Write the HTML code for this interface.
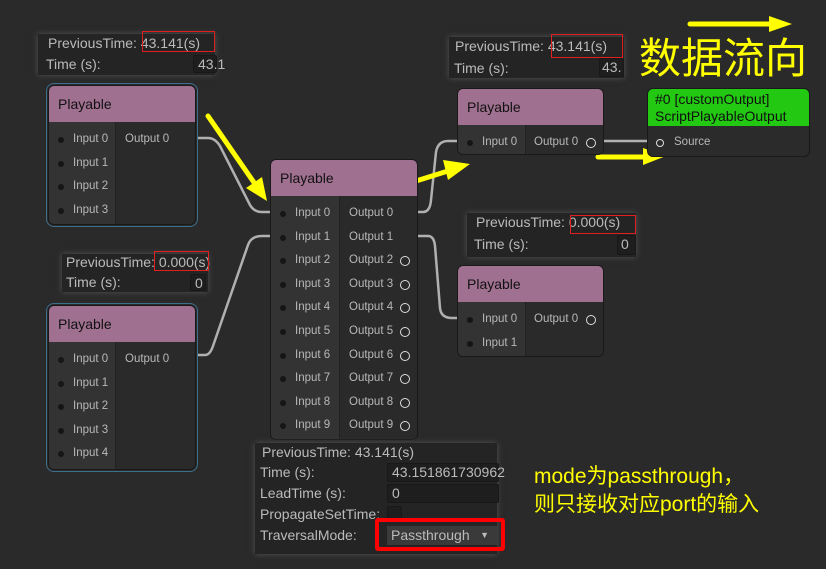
<!DOCTYPE html>
<html><head><meta charset="utf-8"><style>
*{margin:0;padding:0;box-sizing:border-box}
body{width:826px;height:569px;background:#2a2a2a;position:relative;overflow:hidden;font-family:"Liberation Sans","Noto Sans CJK SC",sans-serif}
.n{position:absolute;background:#2b2b2b;border:1px solid #191919;border-radius:6px;overflow:hidden}
.h{position:absolute;left:0;right:0;top:0;height:36px;background:#a07090;color:#111;font-size:14px;padding:10px 0 0 9px}
.l,.r{position:absolute;top:36px;bottom:0;padding-top:6px}
.l{left:0;background:#333}
.r{right:0;background:#2a2a2a;border-left:1px solid #222}
.row{height:23.6px;line-height:23.6px;font-size:11.5px;color:#b8b8b8;position:relative;white-space:nowrap}
.l .row{padding-left:24px}
.l .row:before{content:"";position:absolute;left:9px;top:9px;width:6px;height:6px;border-radius:50%;background:#151515}
.r .row{padding-left:9px}
.o:after{content:"";position:absolute;right:7px;top:7px;width:8px;height:8px;border-radius:50%;border:1.5px solid #ddd}
.i{position:absolute;background:#242424;box-shadow:0 0 6px #555;color:#bbb;font-size:14px}
.i div{position:absolute;white-space:nowrap}
.fld{background:#1e1e1e;border:1px solid #181818;border-radius:2px}
.red{position:absolute;border:1px solid #e02020}
.y{position:absolute;color:#ffff00;white-space:nowrap}
</style></head><body>

<svg width="826" height="569" style="position:absolute;left:0;top:0">
<g fill="none" stroke="#b0b0b0" stroke-width="2.5">
<path d="M197 138 H208 Q215 138 220 146 L250 205 Q254 212 262 212 H276"/>
<path d="M197 355 H205 Q210 355 213 346 L248 245 Q251 236 262 236 H276"/>
<path d="M412 212 H423 Q430 212 431 200 L436 152 Q438 141 448 141 H462"/>
<path d="M412 236 H428 Q434 236 435 246 L440 308 Q441 318 452 318 H462"/>
<path d="M597 141 H655"/>
</g>
<g stroke="#ffff00" stroke-width="5" fill="#ffff00" stroke-linecap="round">
<path d="M208 116 L255 184" fill="none"/><polygon points="267,201 246,188 262,177" stroke="none"/>
<path d="M400 186 L448 171" fill="none"/><polygon points="470,164 448,180 443,160" stroke="none"/>
<path d="M598 157 L645 157" fill="none"/><polygon points="666,156 643,148 643,165" stroke="none"/>
<path d="M690 24 L770 24" fill="none"/><polygon points="792,24 769,16 769,32" stroke="none"/>
</g>
</svg>

<!-- info A -->
<div class="i" style="left:38px;top:34px;width:177px;height:41px">
<div style="left:10px;top:1px">PreviousTime: 43.141(s)</div>
<div style="left:8px;top:22px">Time (s):</div>
<div class="fld" style="left:155px;top:21px;width:24px;height:18px;padding-left:4px">43.1</div>
</div>
<div class="red" style="left:142px;top:31px;width:73px;height:21px"></div>

<!-- node A -->
<div style="position:absolute;left:46px;top:83px;width:152px;height:144px;border:1.5px solid #3d6e8c;border-radius:8px"></div>
<div class="n" style="left:48px;top:85px;width:148px;height:140px">
<div class="h">Playable</div>
<div class="l" style="width:68px"><div class="row">Input 0</div><div class="row">Input 1</div><div class="row">Input 2</div><div class="row">Input 3</div></div>
<div class="r" style="width:80px"><div class="row">Output 0</div></div>
</div>

<!-- info B -->
<div class="i" style="left:62px;top:254px;width:146px;height:38px">
<div style="left:4px;top:0px">PreviousTime: 0.000(s)</div>
<div style="left:4px;top:20px">Time (s):</div>
<div class="fld" style="left:128px;top:20px;width:16px;height:17px;padding-left:4px">0</div>
</div>
<div class="red" style="left:154px;top:251px;width:55px;height:20px"></div>

<!-- node B -->
<div style="position:absolute;left:46px;top:303px;width:152px;height:169px;border:1.5px solid #3d6e8c;border-radius:8px"></div>
<div class="n" style="left:48px;top:305px;width:148px;height:165px">
<div class="h">Playable</div>
<div class="l" style="width:68px"><div class="row">Input 0</div><div class="row">Input 1</div><div class="row">Input 2</div><div class="row">Input 3</div><div class="row">Input 4</div></div>
<div class="r" style="width:80px"><div class="row">Output 0</div></div>
</div>

<!-- node C -->
<div class="n" style="left:270px;top:159px;width:148px;height:281px">
<div class="h">Playable</div>
<div class="l" style="width:70px"><div class="row">Input 0</div><div class="row">Input 1</div><div class="row">Input 2</div><div class="row">Input 3</div><div class="row">Input 4</div><div class="row">Input 5</div><div class="row">Input 6</div><div class="row">Input 7</div><div class="row">Input 8</div><div class="row">Input 9</div></div>
<div class="r" style="width:78px;padding-left:0"><div class="row">Output 0</div><div class="row">Output 1</div><div class="row o">Output 2</div><div class="row o">Output 3</div><div class="row o">Output 4</div><div class="row o">Output 5</div><div class="row o">Output 6</div><div class="row o">Output 7</div><div class="row o">Output 8</div><div class="row o">Output 9</div></div>
</div>

<!-- info C -->
<div class="i" style="left:255px;top:443px;width:242px;height:111px">
<div style="left:7px;top:1px">PreviousTime: 43.141(s)</div>
<div style="left:5px;top:21px">Time (s):</div>
<div class="fld" style="left:132px;top:20px;width:112px;height:19px;padding-left:4px">43.151861730962</div>
<div style="left:5px;top:42px">LeadTime (s):</div>
<div class="fld" style="left:132px;top:41px;width:112px;height:19px;padding-left:4px">0</div>
<div style="left:5px;top:63px">PropagateSetTime:</div>
<div class="fld" style="left:132px;top:63px;width:15px;height:15px"></div>
<div style="left:5px;top:84px">TraversalMode:</div>
<div style="left:132px;top:83px;width:110px;height:19px;background:#3a3a3a;padding-left:4px;line-height:19px">Passthrough<span style="position:absolute;right:8px;font-size:9px">▼</span></div>
</div>
<div style="position:absolute;left:375px;top:518px;width:130px;height:33px;border:4px solid #ff0000;border-radius:3px"></div>

<!-- info D -->
<div class="i" style="left:449px;top:37px;width:175px;height:41px">
<div style="left:6px;top:1px">PreviousTime: 43.141(s)</div>
<div style="left:5px;top:23px">Time (s):</div>
<div class="fld" style="left:150px;top:21px;width:25px;height:19px;padding-left:2px">43.</div>
</div>
<div class="red" style="left:551px;top:34px;width:72px;height:24px"></div>

<!-- node D -->
<div class="n" style="left:457px;top:88px;width:147px;height:67px">
<div class="h">Playable</div>
<div class="l" style="width:69px"><div class="row">Input 0</div></div>
<div class="r" style="width:78px"><div class="row o" style="padding-left:8px">Output 0</div></div>
</div>

<!-- node E -->
<div class="n" style="left:647px;top:88px;width:163px;height:69px;background:#2b2b2b">
<div class="h" style="background:#22c812;height:37px;padding:2px 0 0 7px;font-size:14px;line-height:17px">#0 [customOutput]<br>ScriptPlayableOutput</div>
<div class="row" style="position:absolute;top:42px;left:0;padding-left:26px;font-size:11.5px">Source<span style="position:absolute;left:8px;top:8px;width:8px;height:8px;border-radius:50%;border:1.5px solid #ddd"></span></div>
</div>

<!-- info F -->
<div class="i" style="left:467px;top:213px;width:169px;height:44px">
<div style="left:9px;top:1px">PreviousTime: 0.000(s)</div>
<div style="left:7px;top:23px">Time (s):</div>
<div class="fld" style="left:150px;top:22px;width:19px;height:20px;padding-left:3px">0</div>
</div>
<div class="red" style="left:570px;top:215px;width:66px;height:19px"></div>

<!-- node F -->
<div class="n" style="left:457px;top:265px;width:147px;height:92px">
<div class="h">Playable</div>
<div class="l" style="width:69px"><div class="row">Input 0</div><div class="row">Input 1</div></div>
<div class="r" style="width:78px"><div class="row o" style="padding-left:8px">Output 0</div></div>
</div>

<div class="y" style="left:639px;top:34px;font-size:42px;line-height:50px">数据流向</div>
<div class="y" style="left:534px;top:463px;font-size:21px;line-height:28px">mode为passthrough，<br>则只接收对应port的输入</div>
</body></html>
